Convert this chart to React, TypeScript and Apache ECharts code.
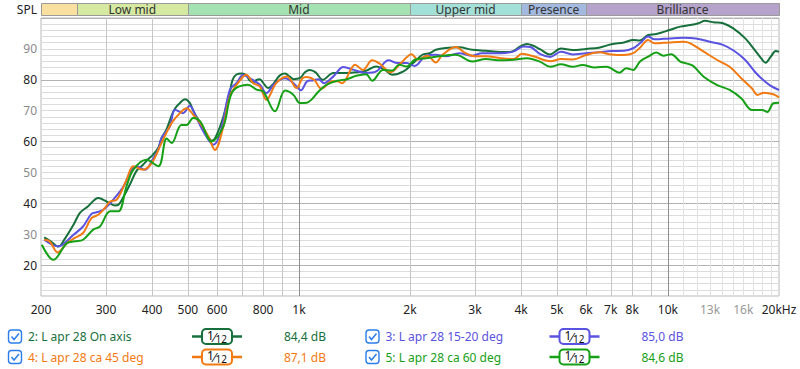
import React, { useEffect, useRef } from 'react';
import * as echarts from 'echarts';

const FONT = '"Noto Sans", "Open Sans", sans-serif';

const seriesNames = ['2: L apr 28 On axis', '3: L apr 28 15-20 deg', '4: L apr 28 ca 45 deg', '5: L apr 28 ca 60 deg'];
const seriesColors = ['#17703c', '#5a52e0', '#f27a12', '#16a016'];
const seriesLevels = ['84,4 dB', '85,0 dB', '87,1 dB', '84,6 dB'];

const onAxis = [
  [204, 29.0], [212, 27.8], [223, 26.0], [232, 28.5], [245, 33.1], [255, 36.9], [268, 39.0], [286, 41.7],
  [301, 40.6], [317, 39.3], [324, 39.5], [335, 42.2], [348, 46], [363, 50.5], [378, 52.5], [392, 54.5],
  [402, 55.7], [416, 58], [424, 61], [438, 64], [452, 68.5], [462, 70.8], [476, 72.5], [491, 73.7],
  [506, 72.5], [517, 70], [528, 68], [540, 66], [551, 64], [568, 61.5], [580, 60.3], [592, 61],
  [612, 65], [624, 68], [640, 73], [650, 76], [661, 80], [677, 81.7], [700, 82], [720, 81.5],
  [735, 79.8], [752, 79.1], [768, 80], [784, 80.2], [800, 79], [826, 77.3], [850, 78.5], [868, 80],
  [890, 81.5], [917, 82], [945, 81], [967, 80.2], [1005, 80.5], [1040, 82.5], [1070, 83.2], [1110, 82.4],
  [1160, 80], [1240, 82.2], [1340, 82.2], [1430, 82.4], [1520, 82.9], [1620, 84.3], [1710, 83.2], [1790, 81.6],
  [1920, 82.7], [2040, 85.4], [2160, 88.1], [2260, 88.6], [2350, 89.7], [2500, 90.3], [2720, 90.5], [2950, 89.7],
  [3210, 89.4], [3520, 89], [3740, 89], [3980, 90.8], [4150, 91.6], [4320, 91], [4500, 89.9], [4790, 88.2],
  [5130, 90.1], [5520, 89.6], [6000, 90], [6500, 90.4], [7030, 91.5], [7600, 92.1], [8050, 92.9], [8400, 92.7],
  [8840, 94.5], [9300, 94.8], [10100, 96.1], [10800, 97.2], [11500, 97.7], [12100, 98.3], [12600, 99.1], [13300, 98.6],
  [14100, 98.3], [15000, 96.7], [16200, 93.4], [17200, 89.6], [17900, 86.9], [18400, 85.5], [19000, 87.5], [19600, 89.3],
  [20000, 89.1],
];

const deg15to20 = [
  [204, 28.2], [222, 26.1], [229, 26.6], [245, 29.8], [260, 32.5], [274, 36.6], [283, 37.1], [295, 37.9],
  [314, 41.2], [335, 45.5], [348, 49.8], [363, 52], [383, 50.9], [402, 54.3], [416, 57.5], [424, 61.1],
  [438, 63.5], [447, 64.9], [462, 70.3], [485, 69.2], [506, 71.6], [528, 67.6], [551, 63.3], [586, 59],
  [612, 62.7], [650, 76.8], [677, 78.9], [707, 81.6], [735, 80.5], [784, 78.4], [816, 75.7], [861, 78.9],
  [917, 80.5], [967, 78.9], [1013, 76.6], [1052, 79.5], [1090, 79.8], [1130, 80.2], [1170, 78.9], [1240, 81.1],
  [1320, 84.1], [1410, 83.2], [1520, 82.2], [1620, 82.7], [1750, 86.3], [1850, 85.4], [1960, 85.4], [2060, 84.5],
  [2210, 87.8], [2350, 88.1], [2500, 87.6], [2720, 88.6], [2950, 87.8], [3130, 88.6], [3520, 88.6], [3820, 89.2],
  [4060, 90.8], [4240, 90.6], [4510, 88.3], [4800, 87.4], [5130, 89.1], [5520, 88.2], [6000, 88.6], [6500, 88.9],
  [7030, 89.3], [7600, 89.4], [8050, 90.2], [8400, 91.8], [8840, 94], [9200, 93.1], [10100, 93.4], [11000, 93.6],
  [11900, 93.4], [13000, 92.3], [14100, 91.3], [15100, 89.4], [16200, 86.4], [17200, 82.6], [17900, 80.5], [19000, 78],
  [20000, 76.7],
];

const deg45 = [
  [204, 28.2], [211, 27.7], [222, 24.1], [235, 27.1], [247, 28.8], [260, 30.4], [274, 35.2], [286, 36.3],
  [298, 38.5], [308, 40.6], [321, 41.2], [341, 47.6], [356, 52], [378, 50.9], [399, 53], [424, 59.5],
  [452, 66], [476, 69.2], [496, 70.8], [517, 68.7], [540, 66], [568, 61.7], [592, 57.3], [624, 64.9],
  [650, 74.6], [689, 79.5], [720, 81.6], [752, 78.9], [784, 77.8], [816, 73.5], [868, 78.9], [928, 81.1],
  [986, 77.3], [1022, 80.5], [1050, 80.9], [1100, 80], [1150, 77.1], [1230, 79.5], [1270, 79.5], [1310, 78.9],
  [1420, 84.9], [1490, 83.2], [1580, 86.3], [1660, 85.1], [1770, 82.4], [1890, 85.4], [2020, 88.3], [2100, 86.5],
  [2230, 87.8], [2350, 85.6], [2450, 88.1], [2660, 90.6], [2830, 88.6], [3010, 87.6], [3210, 87.6], [3520, 87],
  [3820, 86.7], [4020, 88.4], [4320, 87.6], [4800, 86], [5130, 86.7], [5520, 86.6], [6000, 88], [6500, 88.9],
  [7030, 88.2], [7600, 88], [8050, 88.6], [8400, 90.4], [8840, 92.9], [9200, 91.8], [10100, 92.1], [11000, 92.3],
  [11500, 91.8], [12500, 89.1], [13600, 86.4], [14700, 84.2], [15800, 80.5], [16900, 77.2], [17500, 75.1], [18200, 75.8],
  [19300, 75.3], [20000, 74.3],
];

const deg60 = [
  [201, 26.6], [216, 21.7], [235, 27.1], [247, 27.7], [260, 28.2], [277, 31.5], [289, 32.5], [308, 37.4],
  [324, 37.4], [341, 45.5], [356, 50.9], [386, 54.1], [416, 52], [438, 61], [452, 59.5], [480, 65.4],
  [496, 65.4], [517, 67.6], [540, 66.5], [580, 60], [624, 64.9], [661, 76.2], [727, 78.4], [768, 76.8],
  [800, 76.2], [861, 69.8], [917, 76.5], [967, 75.1], [1005, 72.5], [1050, 72.6], [1080, 73.5], [1130, 76.2],
  [1190, 78.4], [1270, 79.7], [1350, 80.2], [1430, 81.3], [1520, 81.8], [1580, 79.7], [1690, 83.2], [1790, 83],
  [1870, 84.9], [1960, 84.3], [2060, 86.5], [2210, 87], [2400, 87.6], [2660, 88.1], [2950, 85.9], [3210, 86.7],
  [3520, 86.3], [3820, 86.5], [4150, 87], [4510, 85.8], [4800, 84.2], [5130, 85], [5520, 84.2], [5870, 84.8],
  [6330, 84], [6820, 84.2], [7400, 82.3], [7700, 83.7], [8050, 83.2], [8400, 85.9], [8840, 87.5], [9300, 88.8],
  [9720, 87.8], [10200, 88.3], [10800, 85.9], [11200, 85.3], [11700, 84.5], [12500, 81], [13600, 78.3], [14700, 76.7],
  [15800, 74], [16900, 70.2], [18000, 70.2], [18600, 69.6], [19300, 72.4], [20000, 72.6],
];

const seriesData = [onAxis, deg15to20, deg45, deg60];

const bandNames = ['', 'Low mid', 'Mid', 'Upper mid', 'Presence', 'Brilliance'];
const bandEdges = [200, 250, 500, 2000, 4000, 6000, 20000];
const bandColors = ['#f9dfa0', '#d5e9a1', '#a5e2b1', '#a3e0d8', '#a3b9df', '#b5a3cc'];

const xTickValues = [200, 300, 400, 500, 600, 800, 1000, 2000, 3000, 4000, 5000, 6000, 7000, 8000, 10000, 13000, 16000, 20000];
const xGridMajor = [1000, 10000];
const xGridMid = [300, 400, 500, 600, 700, 800, 900, 2000, 3000, 4000, 5000, 6000, 7000, 8000, 9000];
const xGridFine = [11000, 12000, 13000, 14000, 15000, 16000, 17000, 18000, 19000];

const Y_MIN = 10;
const Y_MAX = 100;

const GRID_LEFT = 41;
const GRID_WIDTH = 738;

export default function App() {
  const ref = useRef<HTMLDivElement>(null);

  useEffect(() => {
    if (!ref.current) return;
    const chart = echarts.init(ref.current, null, { renderer: 'svg' });

    const gridLineData = [
      ...xGridFine.map((f) => [f, Y_MIN, 0]),
      ...xGridMid.map((f) => [f, Y_MIN, 1]),
      ...xGridMajor.map((f) => [f, Y_MIN, 2]),
    ];
    const gridLineColors = ['#e2e2e2', '#c6c6c6', '#8e8e8e'];

    const bandData = bandNames.map((n, i) => [bandEdges[i], bandEdges[i + 1], 0.5, i]);

    const legendCols = [8, 365.5];
    const legendRows = [336.5, 357];
    const legendSlots = [
      [0, 0],
      [1, 0],
      [0, 1],
      [1, 1],
    ];
    const graphics: any[] = [
      {
        type: 'text',
        style: { text: 'SPL', x: 37, y: 9, fill: '#222', font: `12px ${FONT}`, textAlign: 'right', align: 'right', textVerticalAlign: 'middle', verticalAlign: 'middle' },
      },
    ];
    seriesNames.forEach((name, i) => {
      const cx = legendCols[legendSlots[i][0]];
      const cy = legendRows[legendSlots[i][1]];
      const color = seriesColors[i];
      graphics.push({
        type: 'rect',
        shape: { x: cx + 0.5, y: cy - 6.5, width: 13, height: 13, r: 3 },
        style: { fill: '#fff', stroke: '#2b7de9', lineWidth: 1.4 },
      });
      graphics.push({
        type: 'polyline',
        shape: { points: [[cx + 3.5, cy], [cx + 6, cy + 3], [cx + 11, cy - 3]] },
        style: { fill: null, stroke: '#2b7de9', lineWidth: 1.5 },
      });
      graphics.push({
        type: 'text',
        style: { text: name, x: cx + 20, y: cy, fill: color, font: `12px ${FONT}`, textVerticalAlign: 'middle', verticalAlign: 'middle' },
      });
      graphics.push({
        type: 'line',
        shape: { x1: cx + 184, y1: cy, x2: cx + 234, y2: cy },
        style: { stroke: color, lineWidth: 2.5 },
      });
      graphics.push({
        type: 'rect',
        shape: { x: cx + 194, y: cy - 7.5, width: 30, height: 15, r: 4 },
        style: { fill: '#fff', stroke: color, lineWidth: 2 },
      });
      graphics.push({
        type: 'text',
        style: {
          text: '{a|1}{s|⁄}{b|12}',
          x: cx + 209,
          y: cy,
          textAlign: 'center',
          align: 'center',
          textVerticalAlign: 'middle',
          verticalAlign: 'middle',
          rich: {
            a: { fontSize: 12, fontFamily: FONT, fill: '#111', padding: [0, 0, 3, 0] },
            s: { fontSize: 13, fontFamily: FONT, fill: '#111' },
            b: { fontSize: 10, fontFamily: FONT, fill: '#111', padding: [4, 0, 0, 0] },
          },
        },
      });
      graphics.push({
        type: 'text',
        style: { text: seriesLevels[i], x: cx + 318, y: cy, fill: color, font: `12px ${FONT}`, textAlign: 'right', align: 'right', textVerticalAlign: 'middle', verticalAlign: 'middle' },
      });
    });

    const option: any = {
      animation: false,
      backgroundColor: '#ffffff',
      textStyle: { fontFamily: FONT },
      grid: [
        { left: GRID_LEFT, width: GRID_WIDTH, top: 18, height: 278, show: true, borderColor: '#b8b8b8', borderWidth: 1, backgroundColor: '#fff' },
        { left: GRID_LEFT, width: GRID_WIDTH, top: 3, height: 12, show: false },
      ],
      xAxis: [
        {
          type: 'log',
          logBase: 10,
          min: 200,
          max: 20000,
          gridIndex: 0,
          axisLine: { show: false },
          axisTick: { show: false },
          splitLine: { show: false },
          minorSplitLine: { show: false },
          axisLabel: {
            customValues: xTickValues,
            showMinLabel: true,
            showMaxLabel: true,
            margin: 7,
            formatter: (v: number) => {
              const r = Math.round(v);
              const s = r >= 1000 ? `${r / 1000}k` : `${r}`;
              if (r === 20000) return '{d|20kHz}';
              if (r === 13000 || r === 16000) return `{g|${s}}`;
              return `{d|${s}}`;
            },
            rich: {
              d: { color: '#222', fontSize: 12, fontFamily: FONT },
              g: { color: '#999', fontSize: 12, fontFamily: FONT },
            },
          },
        },
        {
          type: 'log',
          logBase: 10,
          min: 200,
          max: 20000,
          gridIndex: 1,
          show: false,
        },
      ],
      yAxis: [
        {
          type: 'value',
          min: Y_MIN,
          max: Y_MAX,
          interval: 10,
          gridIndex: 0,
          axisLine: { show: false },
          axisTick: { show: false },
          minorTick: { show: false, splitNumber: 5 },
          axisLabel: {
            margin: 4,
            formatter: (v: number) => {
              if (v === Y_MIN || v === Y_MAX) return '';
              return v % 20 === 0 ? `{d|${v}}` : `{g|${v}}`;
            },
            rich: {
              d: { color: '#222', fontSize: 12, fontFamily: FONT },
              g: { color: '#8a8a8a', fontSize: 12, fontFamily: FONT },
            },
          },
          splitLine: { show: true, lineStyle: { color: ['#dcdcdc', '#b2b2b2'], width: 1 } },
          minorSplitLine: { show: true, lineStyle: { color: '#dcdcdc', width: 1 } },
        },
        { type: 'value', min: 0, max: 1, gridIndex: 1, show: false },
      ],
      graphic: graphics,
      series: [
        {
          type: 'custom',
          xAxisIndex: 0,
          yAxisIndex: 0,
          silent: true,
          z: 1,
          encode: { x: 0, y: 1 },
          data: gridLineData,
          renderItem: (params: any, api: any) => {
            const f = api.value(0);
            const lvl = api.value(2);
            const p1 = api.coord([f, Y_MIN]);
            const p2 = api.coord([f, Y_MAX]);
            const x = Math.round(p1[0]) + 0.5;
            return {
              type: 'line',
              shape: { x1: x, y1: p1[1], x2: x, y2: p2[1] },
              style: { stroke: gridLineColors[lvl], lineWidth: 1 },
            };
          },
        },
        {
          type: 'custom',
          xAxisIndex: 1,
          yAxisIndex: 1,
          silent: true,
          encode: { x: [0, 1], y: 2 },
          data: bandData,
          renderItem: (params: any, api: any) => {
            const i = api.value(3);
            const a = api.coord([api.value(0), 1]);
            const b = api.coord([api.value(1), 0]);
            return {
              type: 'group',
              children: [
                {
                  type: 'rect',
                  shape: { x: Math.round(a[0]) + 0.5, y: a[1] + 0.5, width: Math.round(b[0]) - Math.round(a[0]), height: b[1] - a[1] },
                  style: { fill: bandColors[i], stroke: '#9a9a9a', lineWidth: 1 },
                },
                {
                  type: 'text',
                  style: {
                    text: bandNames[i],
                    x: (a[0] + b[0]) / 2,
                    y: (a[1] + b[1]) / 2 + 0.5,
                    fill: '#333',
                    font: `12px ${FONT}`,
                    textAlign: 'center',
                    align: 'center',
                    textVerticalAlign: 'middle',
                    verticalAlign: 'middle',
                  },
                },
              ],
            };
          },
        },
        ...seriesData.map((d, i) => ({
          type: 'line',
          name: seriesNames[i],
          xAxisIndex: 0,
          yAxisIndex: 0,
          z: 3,
          data: d,
          smooth: 0.35,
          showSymbol: false,
          symbol: 'none',
          lineStyle: { color: seriesColors[i], width: 2 },
          itemStyle: { color: seriesColors[i] },
        })),
      ],
    };

    chart.setOption(option);
    return () => chart.dispose();
  }, []);

  return <div ref={ref} style={{ width: 800, height: 369, position: 'absolute', left: 0, top: 0 }} />;
}
